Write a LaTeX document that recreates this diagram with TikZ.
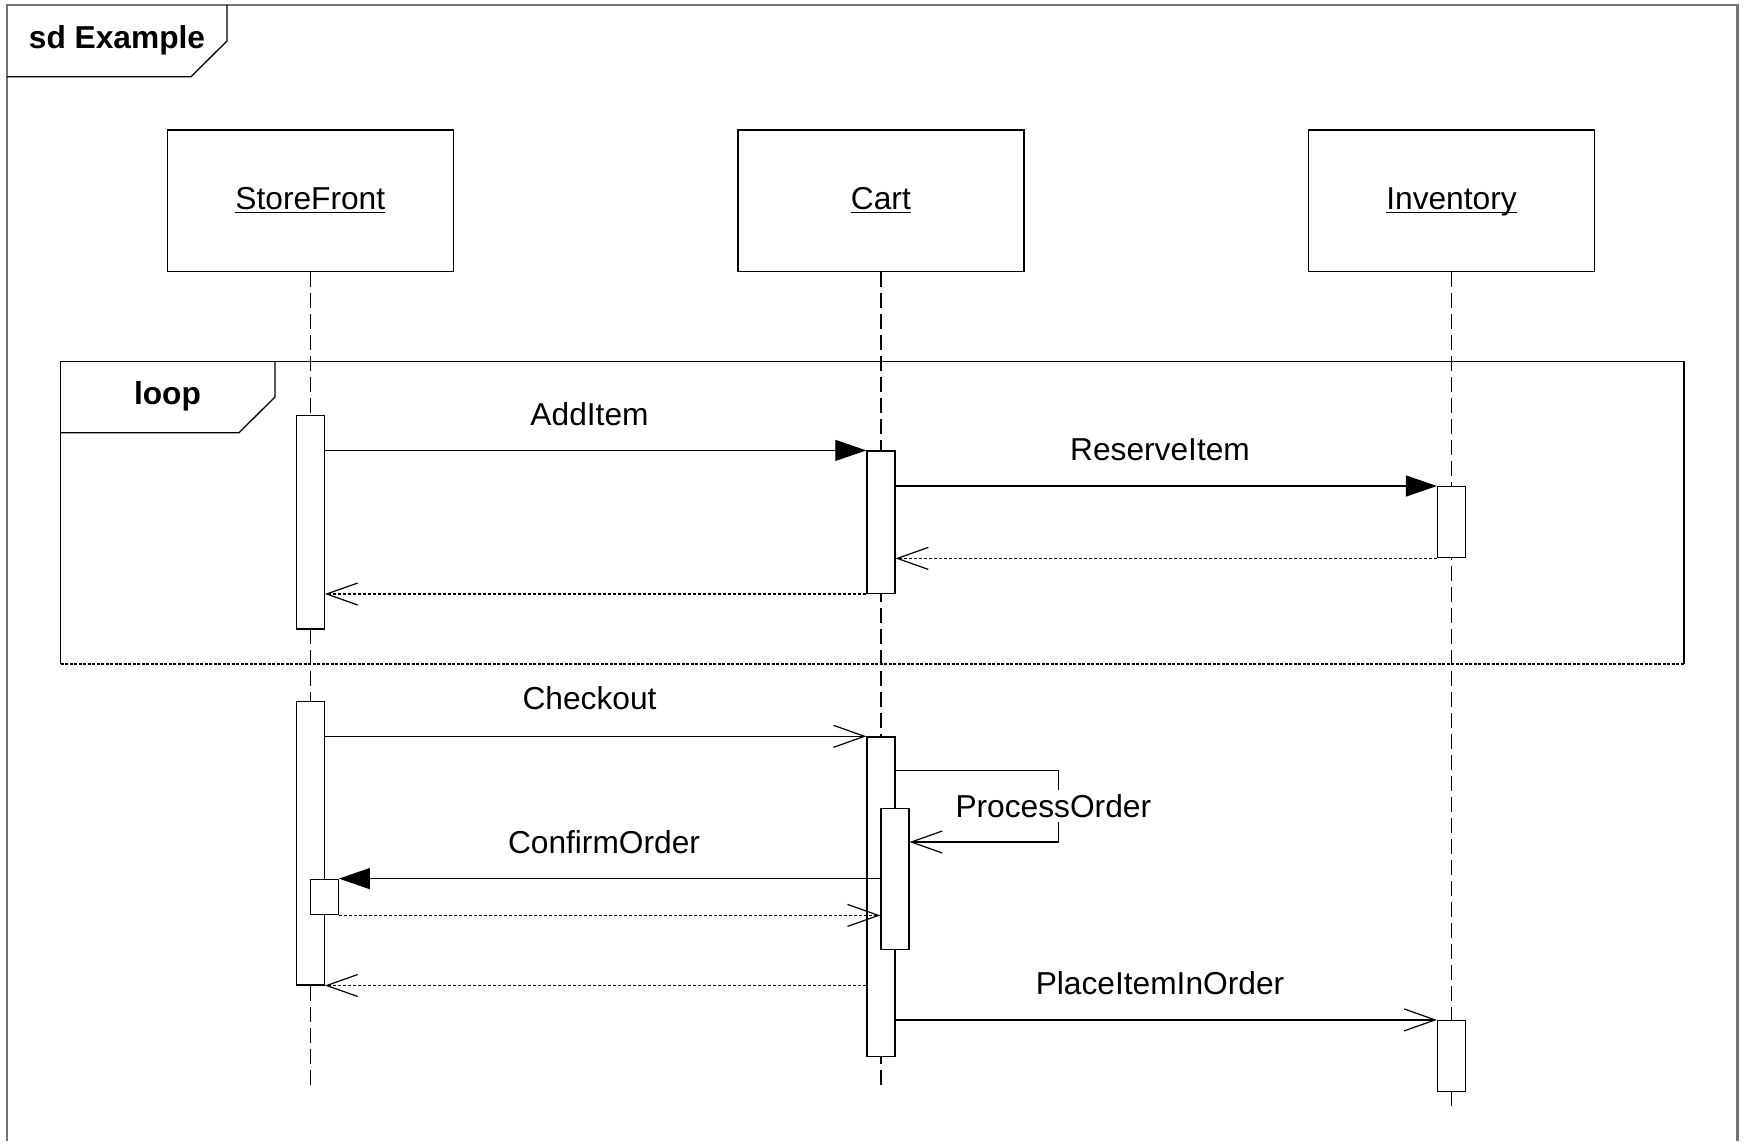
\documentclass[tikz,border=0pt]{standalone}
\usepackage{amsmath}
\usepackage{fontspec}
\setmainfont{Liberation Sans}
\usetikzlibrary{arrows.meta,calc}
\begin{document}
\begin{tikzpicture}[x=1pt,y=-1pt,
  lbl/.style={font=\fontsize{31.7}{38}\selectfont, inner sep=2pt},
  boldlbl/.style={font=\fontsize{31.7}{38}\selectfont\bfseries, inner sep=0pt},
  head/.style={draw, line width=1.3pt, minimum width=286pt, minimum height=141.5pt, inner sep=0pt, font=\fontsize{31.7}{38}\selectfont},
  act/.style={draw, fill=white, line width=1.2pt, minimum width=28pt, inner sep=0pt, anchor=north},
  msg/.style={line width=1.2pt},
  filledtip/.style={-{Triangle[length=31pt,width=21pt]}},
  opentip/.style={-{Straight Barb[length=31pt,width=22pt,line width=1.2pt]}},
  ret/.style={dash pattern=on 3pt off 2pt},
  lifeline/.style={dash pattern=on 15pt off 6pt, line width=1.2pt},
  framestyle/.style={draw=black!55, line width=2.4pt},
  tabstyle/.style={line width=1.3pt}
]
\useasboundingbox (0,0) rectangle (1744,1141);
% outer frame
\draw[framestyle] (7,1141) -- (7,5) -- (1737.5,5) -- (1737.5,1141);
\draw[tabstyle] (7,76.7) -- (191,76.7) -- (227,41) -- (227,5);
\node[boldlbl] (title) at (117,40) {sd Example};

% lifeline heads
\node[head] (sf)  at (310.3,200.75) {\underline{\smash[b]{StoreFront}}};
\node[head] (cart) at (880.9,200.75) {\underline{\smash[b]{Cart}}};
\node[head] (inv) at (1451.5,200.75) {\underline{\smash[b]{Inventory}}};

\coordinate (sfEnd)   at (310.3,1085);
\coordinate (cartEnd) at (880.9,1085);
\coordinate (invEnd)  at (1451.5,1108);
\draw[lifeline] (sf.south) -- (sfEnd);
\draw[lifeline] (cart.south) -- (cartEnd);
\draw[lifeline] (inv.south) -- (invEnd);

% loop fragment
\draw[tabstyle] (60.7,664) -- (60.7,361.7) -- (1684,361.7) -- (1684,664);
\draw[line width=1.5pt, dash pattern=on 3pt off 1.5pt] (60.7,664) -- (1684,664);
\draw[tabstyle] (60.7,432.7) -- (239,432.7) -- (275,397) -- (275,361.7);
\node[boldlbl] (loopl) at (167.5,396) {loop};

% activations
\node[act, minimum height=213.4pt] (a1) at (310.3,415) {};
\node[act, minimum height=142.4pt] (a2) at (880.9,450.4) {};
\node[act, minimum height=71.2pt]  (a3) at (1451.5,486) {};
\node[act, minimum height=283.6pt] (a4) at (310.3,700.7) {};
\node[act, minimum height=319.2pt] (a5) at (880.9,736.3) {};
\node[act, minimum height=141.2pt] (a6) at (894.9,807.5) {};
\node[act, minimum height=35.6pt]  (a7) at (324.3,878.6) {};
\node[act, minimum height=71.1pt]  (a8) at (1451.5,1019.9) {};

% messages
\draw[msg, filledtip] (a1.east |- a2.north) -- (a2.north west);
\node[lbl] (m1) at (589.5,413.7) {AddItem};
\draw[msg, filledtip] (a2.east |- a3.north) -- (a3.north west);
\node[lbl] (m2) at (1160,449.3) {ReserveItem};
\draw[msg, ret, opentip] (a3.south west) -- (a2.east |- a3.south);
\draw[msg, ret, opentip] (a2.south west) -- (a1.east |- a2.south);

\draw[msg, opentip] (a4.east |- a5.north) -- (a5.north west);
\node[lbl] (m3) at (589.5,698.5) {Checkout};

\coordinate (poA) at (1058.8,770.8);
\coordinate (poB) at (1058.8,842);
\draw[msg, opentip] (a5.east |- poA) -- (poA) -- (poB) -- (a6.east |- poB);
\node[lbl, fill=white, inner sep=4pt] (m4) at (1053.3,806) {ProcessOrder};

\draw[msg, filledtip] (a6.west |- a7.north) -- (a7.north east);
\node[lbl] (m5) at (604,842) {ConfirmOrder};
\draw[msg, ret, opentip] (a7.south east) -- (a6.west |- a7.south);
\draw[msg, ret, opentip] (a5.west |- a4.south) -- (a4.south east);

\draw[msg, opentip] (a5.east |- a8.north) -- (a8.north west);
\node[lbl] (m6) at (1160,983.2) {PlaceItemInOrder};
\end{tikzpicture}
\end{document}
